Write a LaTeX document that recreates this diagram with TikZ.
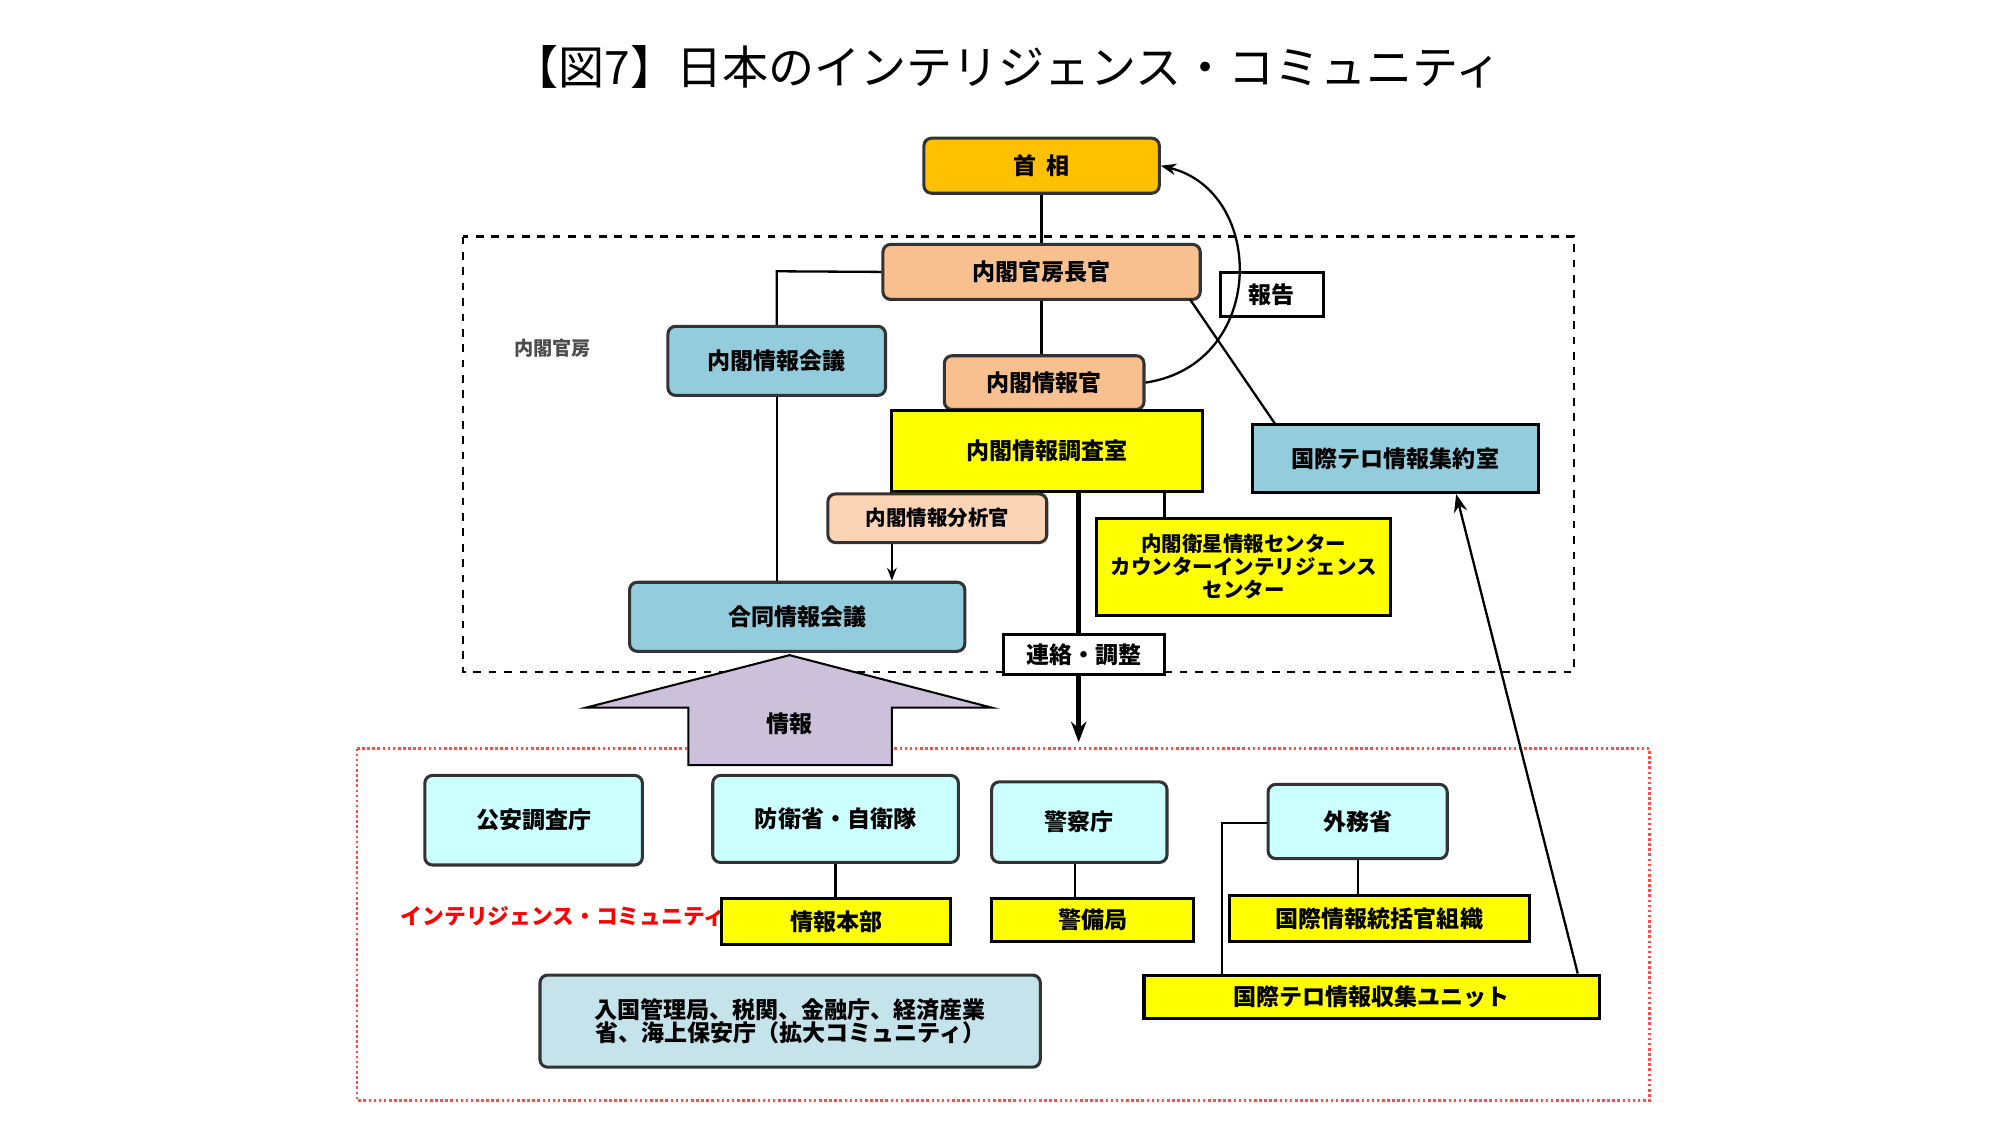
\documentclass[tikz,border=0pt]{standalone}
\usepackage{fontspec}
\setmainfont{Noto Sans CJK JP}
\usetikzlibrary{arrows.meta}
\definecolor{peach}{HTML}{F9C08F}
\definecolor{lpeach}{HTML}{FAD4B4}
\definecolor{bl}{HTML}{93CDDD}
\definecolor{cy}{HTML}{CCFFFF}
\definecolor{yl}{HTML}{FFFF00}
\definecolor{org}{HTML}{FFC000}
\definecolor{lav}{HTML}{CCC0DA}
\definecolor{lb}{HTML}{C5E3EA}
\begin{document}
\begin{tikzpicture}[x=0.5pt,y=-0.5pt,
 bx/.style={draw=black!80,line width=1.2pt,rounded corners=3pt,font=\bfseries\fontsize{9}{11}\selectfont,align=center},
 sq/.style={draw=black,line width=1.2pt,font=\bfseries\fontsize{9}{11}\selectfont,align=center},
 ln/.style={line width=0.9pt}]
\useasboundingbox (0,0) rectangle (1563,879);
\node[font=\fontsize{18}{20}\selectfont] (title) at (787,52) {【図7】日本のインテリジェンス・コミュニティ};
\draw[dashed,line width=1pt] (362,185) rectangle (1230,525);
\draw[red!70,densely dotted,line width=1pt] (279,585) rectangle (1289,860);
\node[font=\bfseries\fontsize{7.5}{9}\selectfont,text=black!70] (kb) at (432,272) {内閣官房};
% boxes
\newcommand{\bxx}[6]{\node[#1,fill=#2,minimum width={(#5-#3)*0.5pt},minimum height={(#6-#4)*0.5pt},inner sep=1pt] at ({(#3+#5)/2},{(#4+#6)/2})}
\bxx{bx}{org}{722}{108}{906}{151} (sh) {首\ \ 相};
\bxx{bx}{peach}{690}{191}{938}{234} (ck) {内閣官房長官};
\bxx{sq}{white}{954}{213}{1034}{247} (hk) {報告};
\bxx{bx}{bl}{522}{255}{692}{309} (jk) {内閣情報会議};
\bxx{bx}{peach}{738}{278}{894}{320} (jo) {内閣情報官};
\bxx{sq}{yl}{697}{321}{940}{384} (cs) {内閣情報調査室};
\bxx{sq}{bl}{979}{332}{1202}{385} (tr) {国際テロ情報集約室};
\bxx{bx}{lpeach}{647}{386}{818}{424} (bs) {\fontsize{8}{10}\selectfont 内閣情報分析官};
\bxx{sq}{yl}{857}{405}{1087}{481} (ei) {\fontsize{8}{10}\selectfont 内閣衛星情報センター\\[-2pt]\fontsize{8}{10}\selectfont カウンターインテリジェンス\\[-2pt]\fontsize{8}{10}\selectfont センター};
\bxx{bx}{bl}{492}{455}{754}{509} (gd) {合同情報会議};
% big arrow
\draw[fill=lav,line width=0.8pt] (617,512) -- (775,553) -- (697,553) -- (697,598) -- (538,598) -- (538,553) -- (458,553) -- cycle;
\node[font=\bfseries\fontsize{9}{11}\selectfont] (jh) at (617,566) {情報};
\bxx{bx}{cy}{332}{606}{502}{676} (ko) {公安調査庁};
\bxx{bx}{cy}{557}{606}{749}{674} (bo) {防衛省・自衛隊};
\bxx{bx}{cy}{775}{611}{912}{674} (kc) {警察庁};
\bxx{bx}{cy}{991}{613}{1131}{671} (gm) {外務省};
\node[text=red,font=\bfseries\fontsize{8.5}{10}\selectfont] (ic) at (440,716) {インテリジェンス・コミュニティ};
\bxx{sq}{yl}{564}{702}{743}{738} (hb) {情報本部};
\bxx{sq}{yl}{775}{702}{933}{736} (kb2) {警備局};
\bxx{sq}{yl}{961}{700}{1195}{736} (tk) {国際情報統括官組織};
\bxx{sq}{yl}{894}{762}{1250}{796} (tu) {国際テロ情報収集ユニット};
\bxx{bx}{lb}{422}{762}{813}{834} (ex) {入国管理局、税関、金融庁、経済産業\\[-2pt]省、海上保安庁（拡大コミュニティ）};
% lines
\draw[ln] (sh.south) -- (ck.north);
\draw[ln] (ck.west) -- (607,212) -- (jk.north-|607,0);
\draw[ln] (jk.south-|607,0) -- (gd.north-|607,0);
\draw[ln] (ck.south) -- (jo.north-|ck.south);
\draw[ln,-{Stealth[length=6pt]}] (jo.east) .. controls (990,285) and (990,150) .. (sh.east);
\draw[ln] (930,234) -- (997,332);
\coordinate (ce) at (843,580);
\draw[line width=2pt,-{Stealth[length=8pt]}] (cs.south-|843,0) -- (ce);
\bxx{sq}{white}{784}{496}{910}{527} (rc) {連絡・調整};
\draw[ln] (cs.south-|910,0) -- (ei.north-|910,0);
\draw[ln,-{Stealth[length=5pt]}] (bs.south-|697,0) -- (gd.north-|697,0);
\draw[ln] (bo.south-|653,0) -- (hb.north-|653,0);
\draw[ln] (kc.south-|840,0) -- (kb2.north-|840,0);
\draw[ln] (gm.south-|1061,0) -- (tk.north-|1061,0);
\draw[ln] (gm.west|-0,643) -- (955,643) -- (tu.north-|955,0);
\draw[ln,-{Stealth[length=7pt]}] (tu.north-|1233,0) -- (tr.south-|1138,0);
\end{tikzpicture}
\end{document}
